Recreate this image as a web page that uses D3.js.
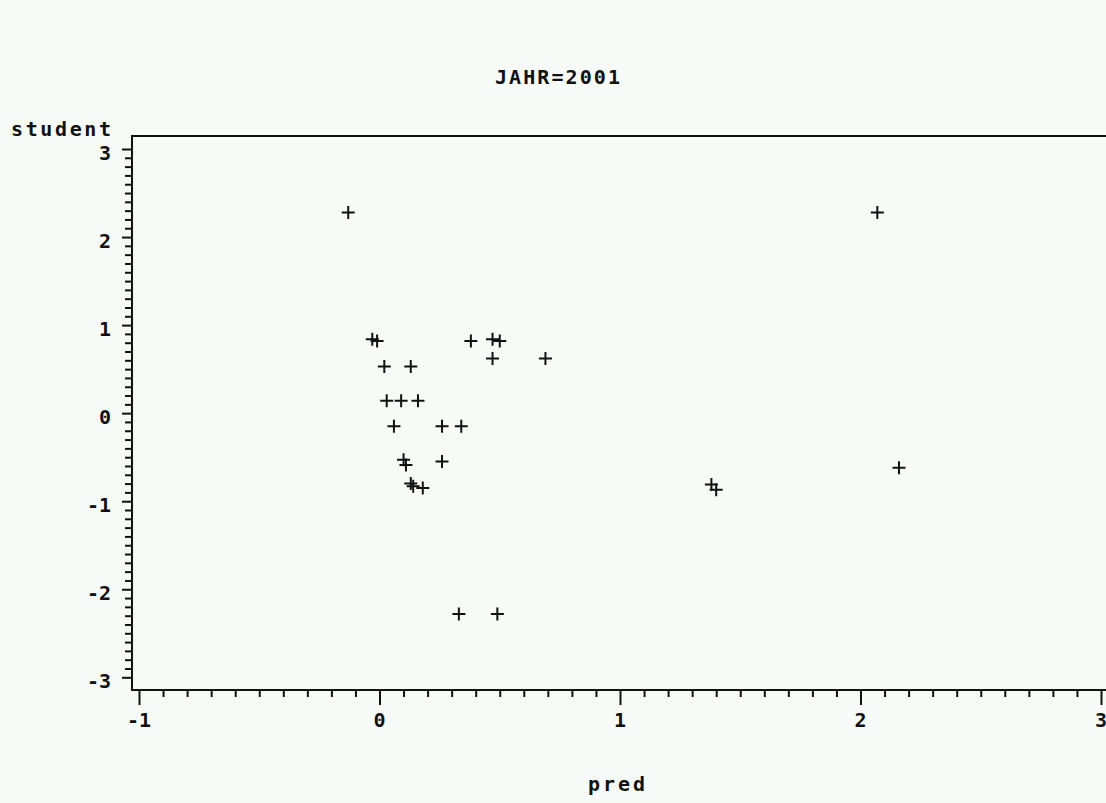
<!DOCTYPE html>
<html>
<head>
<meta charset="utf-8">
<script src="https://cdn.jsdelivr.net/npm/d3@7"></script>
<style>
  html, body { margin: 0; padding: 0; background: #f6fbf8; }
  svg { display: block; }
  text { font-family: "DejaVu Sans Mono", "Liberation Mono", monospace; font-weight: bold; fill: #111; }
</style>
</head>
<body>
<svg id="chart" width="1106" height="803"></svg>
<script>
// Residual plot for one year: predicted value vs. studentized residual
const title = "JAHR=2001";
const xLabel = "pred";
const yLabel = "student";

const xTicks = [-1, 0, 1, 2, 3];
const yTicks = [-3, -2, -1, 0, 1, 2, 3];

const pred = [
  -0.13, 2.07, 2.16, 1.38, 1.40, 0.33, 0.49, 0.69,
  -0.03, -0.01, 0.02, 0.13, 0.03, 0.09, 0.16, 0.06,
  0.26, 0.34, 0.10, 0.11, 0.26, 0.13, 0.14, 0.18,
  0.38, 0.47, 0.50, 0.47
];
const student = [
  2.28, 2.28, -0.62, -0.81, -0.87, -2.28, -2.28, 0.62,
  0.84, 0.82, 0.53, 0.53, 0.14, 0.14, 0.14, -0.15,
  -0.15, -0.15, -0.53, -0.59, -0.55, -0.80, -0.83, -0.85,
  0.82, 0.84, 0.82, 0.62
];

const svg = d3.select("#chart");
const W = 1106, H = 803;
svg.append("rect").attr("width", W).attr("height", H).attr("fill", "#f6fbf8");

const frame = { left: 132, top: 136, right: 1112, bottom: 690 };

const x = d3.scaleLinear().domain([-1, 3]).range([139, 1101]);
const y = d3.scaleLinear().domain([-3, 3]).range([677.3, 149]);

// minor tick values at tenths between the majors
const xMinor = d3.range(-10, 31).map(d => d / 10).filter(d => !xTicks.includes(d));
const yMinor = d3.range(-30, 31).map(d => d / 10).filter(d => !yTicks.includes(d));

// plot frame
svg.append("rect")
  .attr("x", frame.left).attr("y", frame.top)
  .attr("width", frame.right - frame.left).attr("height", frame.bottom - frame.top)
  .attr("fill", "none").attr("stroke", "#111").attr("stroke-width", 2);

// x axis: major + minor ticks
const gx = svg.append("g").attr("transform", `translate(0,${frame.bottom})`);
gx.append("g").call(d3.axisBottom(x).tickValues(xMinor).tickSize(7).tickFormat(""))
  .call(g => g.select(".domain").remove());
gx.append("g").call(d3.axisBottom(x).tickValues(xTicks).tickSize(15).tickFormat(""))
  .call(g => g.select(".domain").remove());
gx.selectAll("line").attr("stroke", "#111").attr("stroke-width", 2);
gx.selectAll(".xlab").data(xTicks).enter().append("text")
  .attr("class", "xlab")
  .attr("x", d => x(d)).attr("y", 37)
  .attr("text-anchor", "middle")
  .style("font-size", "20px")
  .text(d => d);

// y axis: major + minor ticks
const gy = svg.append("g").attr("transform", `translate(${frame.left},0)`);
gy.append("g").call(d3.axisLeft(y).tickValues(yMinor).tickSize(7).tickFormat(""))
  .call(g => g.select(".domain").remove());
gy.append("g").call(d3.axisLeft(y).tickValues(yTicks).tickSize(10).tickFormat(""))
  .call(g => g.select(".domain").remove());
gy.selectAll("line").attr("stroke", "#111").attr("stroke-width", 2);
gy.selectAll(".ylab").data(yTicks).enter().append("text")
  .attr("class", "ylab")
  .attr("x", -21).attr("y", d => y(d) + 11)
  .attr("text-anchor", "end")
  .style("font-size", "20px")
  .text(d => d);

// titles
svg.append("text").attr("x", 495).attr("y", 84)
  .attr("textLength", 125).attr("lengthAdjust", "spacing")
  .style("font-size", "20px").text(title);
svg.append("text").attr("x", 11).attr("y", 136)
  .attr("textLength", 100).attr("lengthAdjust", "spacing")
  .style("font-size", "20px").text(yLabel);
svg.append("text").attr("x", 588).attr("y", 791)
  .attr("textLength", 57).attr("lengthAdjust", "spacing")
  .style("font-size", "20px").text(xLabel);

// plus-sign markers
const pts = pred.map((p, i) => ({ p, s: student[i] }));
const half = 6.5;
const mk = svg.append("g").attr("stroke", "#111").attr("stroke-width", 2);
mk.selectAll("path").data(pts).enter().append("path")
  .attr("d", d => {
    const cx = x(d.p), cy = y(d.s);
    return `M${cx - half},${cy}H${cx + half}M${cx},${cy - half}V${cy + half}`;
  });
</script>
</body>
</html>
